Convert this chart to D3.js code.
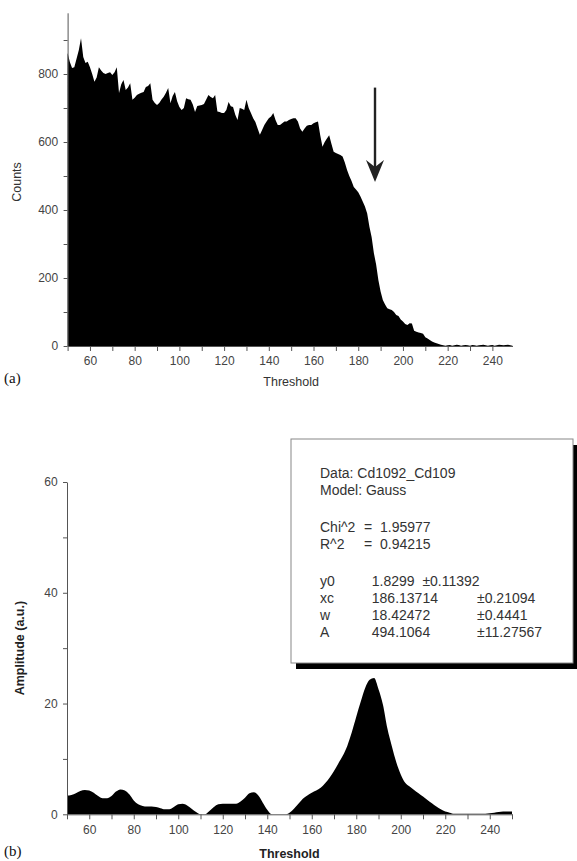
<!DOCTYPE html>
<html>
<head>
<meta charset="utf-8">
<script src="https://cdn.jsdelivr.net/npm/d3@7"></script>
<style>
  body { margin: 0; background: #fff; }
  svg text { font-family: "Liberation Sans", Arial, sans-serif; }
  .axis path, .axis line { stroke: #555; }
  .axis text { fill: #444; font-size: 12px; }
  .fit text { white-space: pre; }
</style>
</head>
<body>
<div id="chart"></div>
<script>
// (a) counts per threshold, 50..249
const thresholdsA = d3.range(50, 250);
const counts = [
  862, 835, 818, 820, 845, 870, 905, 850, 832, 836,
  820, 800, 777, 790, 820, 810, 803, 800, 803, 805,
  797, 805, 820, 744, 770, 782, 753, 760, 773, 724,
  730, 738, 742, 745, 747, 762, 765, 773, 724, 715,
  709, 715, 725, 733, 745, 759, 714, 735, 747, 720,
  703, 694, 700, 729, 726, 724, 710, 688, 706, 707,
  709, 712, 725, 738, 732, 729, 738, 690, 688, 685,
  685, 694, 718, 705, 703, 680, 665, 700, 698, 694,
  724, 700, 685, 670, 659, 640, 621, 635, 650, 660,
  670, 675, 685, 665, 650, 650, 655, 660, 660, 665,
  668, 670, 670, 660, 640, 630, 640, 648, 650, 650,
  655, 658, 660, 620, 586, 600, 610, 620, 595, 571,
  568, 565, 562, 557, 540, 518, 500, 485, 468, 460,
  452, 440, 425, 410, 390, 351, 320, 273, 240, 194,
  160, 135, 122, 111, 108, 106, 100, 91, 88, 78,
  72, 65, 62, 67, 66, 45, 42, 40, 38, 36,
  26, 22, 18, 13, 10, 8, 6, 4, 2, 1,
  2, 3, 1, 2, 4, 3, 1, 2, 3, 2,
  1, 3, 2, 1, 2, 3, 4, 2, 1, 2,
  3, 1, 2, 4, 3, 2, 3, 4, 2, 1
];

// (b) amplitude, every 2 thresholds, 50..250
const thresholdsB = d3.range(50, 251, 2);
const amplitude = [
  3.4, 3.5, 3.8, 4.2, 4.4, 4.3, 3.9, 3.3, 2.9, 2.9,
  3.3, 4.1, 4.5, 4.3, 3.6, 2.5, 1.8, 1.5, 1.4, 1.4,
  1.3, 1.1, 0.9, 0.9, 1.3, 1.8, 1.9, 1.6, 1.0, 0.4,
  0.0, 0.0, 0.6, 1.3, 1.8, 1.9, 1.9, 1.9, 1.9, 2.3,
  3.0, 3.8, 4.0, 3.4, 2.1, 0.8, 0.0, 0.0, 0.0, 0.0,
  0.3, 1.0, 1.9, 2.8, 3.4, 3.9, 4.3, 4.8, 5.6, 6.6,
  7.8, 9.2, 10.6, 12.4, 14.8, 17.6, 20.3, 22.8, 24.3, 24.6,
  22.6, 19.8, 15.5, 12.3, 9.4, 7.2, 5.7, 5.0, 4.4, 3.8,
  3.2, 2.6, 2.0, 1.4, 0.9, 0.5, 0.3, 0.1, 0.1, 0.1,
  0.1, 0.1, 0.1, 0.1, 0.1, 0.2, 0.3, 0.4, 0.5, 0.5,
  0.5
];

// arrow marker in (a): threshold, from count, to count
const arrowA = [187.5, 760, 482];

// fit results box
const fitLines = [
  ["Data: Cd1092_Cd109", "", ""],
  ["Model: Gauss", "", ""],
  ["", "", ""],
  ["Chi^2", "=  1.95977", ""],
  ["R^2", "=  0.94215", ""],
  ["", "", ""],
  ["y0", "  1.8299  \u00b10.11392", ""],
  ["xc", "  186.13714", "\u00b10.21094"],
  ["w", "  18.42472", "\u00b10.4441"],
  ["A", "  494.1064", "\u00b111.27567"]
];

const width = 577, height = 861;
const svg = d3.select("#chart").append("svg")
    .attr("width", width)
    .attr("height", height);

// ---------- panel (a)
const xA = d3.scaleLinear().domain([50, 249]).range([67.6, 512.5]);
const yA = d3.scaleLinear().domain([0, 980]).range([346, 12.8]);

svg.append("path")
    .datum(thresholdsA.map((t, i) => [t, counts[i]]))
    .attr("fill", "#000")
    .attr("d", d3.area()
        .x(d => xA(d[0]))
        .y0(yA(0))
        .y1(d => yA(d[1])));

svg.append("g").attr("class", "axis")
    .attr("transform", `translate(0,${yA(0)})`)
    .call(d3.axisBottom(xA).tickValues(d3.range(50, 250, 10))
        .tickSize(5).tickSizeOuter(0)
        .tickFormat(d => d % 20 === 0 && d >= 60 ? d : ""))
    .call(g => g.selectAll("text").attr("dy", "0.95em"));

svg.append("g").attr("class", "axis")
    .attr("transform", `translate(${xA(50)},0)`)
    .call(d3.axisLeft(yA).tickValues(d3.range(0, 901, 100))
        .tickSize(4).tickSizeOuter(0)
        .tickFormat(d => d % 200 === 0 ? d : ""))
    .call(g => g.selectAll("text").attr("dx", "-0.2em"));

svg.append("text")
    .attr("x", xA(150)).attr("y", 386)
    .attr("text-anchor", "middle")
    .style("font-size", "12.5px").style("fill", "#333")
    .text("Threshold");

svg.append("text")
    .attr("transform", `translate(21,${yA(400) - 28}) rotate(-90)`)
    .attr("text-anchor", "middle")
    .style("font-size", "12.5px").style("fill", "#333")
    .text("Counts");

svg.append("text")
    .attr("x", 4).attr("y", 383)
    .style("font-family", "'Liberation Serif', serif")
    .style("font-size", "15px").style("fill", "#111")
    .text("(a)");

// arrow
const ax = xA(arrowA[0]), ay0 = yA(arrowA[1]), ay1 = yA(arrowA[2]);
svg.append("line")
    .attr("x1", ax).attr("x2", ax)
    .attr("y1", ay0).attr("y2", ay1 - 10)
    .attr("stroke", "#222").attr("stroke-width", 2.4);
svg.append("path")
    .attr("d", `M${ax},${ay1} L${ax - 9},${ay1 - 22} L${ax},${ay1 - 15} L${ax + 9},${ay1 - 22} Z`)
    .attr("fill", "#222");

// ---------- panel (b)
const xB = d3.scaleLinear().domain([50, 250]).range([67, 512]);
const yB = d3.scaleLinear().domain([0, 60]).range([814.3, 482]);

svg.append("path")
    .datum(thresholdsB.map((t, i) => [t, amplitude[i]]))
    .attr("fill", "#000")
    .attr("d", d3.area()
        .curve(d3.curveMonotoneX)
        .x(d => xB(d[0]))
        .y0(yB(0))
        .y1(d => yB(d[1])));

svg.append("g").attr("class", "axis")
    .attr("transform", `translate(0,${yB(0)})`)
    .call(d3.axisBottom(xB).tickValues(d3.range(50, 251, 10))
        .tickSize(5).tickSizeOuter(0)
        .tickFormat(d => d % 20 === 0 && d >= 60 && d <= 240 ? d : ""))
    .call(g => g.selectAll("text").attr("dy", "0.95em"));

svg.append("g").attr("class", "axis")
    .attr("transform", `translate(${xB(50)},0)`)
    .call(d3.axisLeft(yB).tickValues(d3.range(0, 61, 10))
        .tickSize(4).tickSizeOuter(0)
        .tickFormat(d => d % 20 === 0 ? d : ""))
    .call(g => g.selectAll("text").attr("dx", "-0.2em"));

svg.append("text")
    .attr("x", xB(150)).attr("y", 858)
    .attr("text-anchor", "middle")
    .style("font-size", "12.5px").style("font-weight", "bold").style("fill", "#222")
    .text("Threshold");

svg.append("text")
    .attr("transform", `translate(24,${yB(30)}) rotate(-90)`)
    .attr("text-anchor", "middle")
    .style("font-size", "12.5px").style("font-weight", "bold").style("fill", "#222")
    .text("Amplitude (a.u.)");

svg.append("text")
    .attr("x", 4).attr("y", 856)
    .style("font-family", "'Liberation Serif', serif")
    .style("font-size", "15px").style("fill", "#111")
    .text("(b)");

// fit box with drop shadow
const box = svg.append("g").attr("class", "fit").attr("transform", "translate(291,439)");
box.append("rect")
    .attr("x", 5).attr("y", 6).attr("width", 282).attr("height", 224)
    .attr("fill", "#000");
box.append("rect")
    .attr("x", 0).attr("y", 0).attr("width", 282).attr("height", 224)
    .attr("fill", "#fff").attr("stroke", "#888").attr("stroke-width", 1);

// row baselines: text rows 16.8 apart, blank rows a bit taller
let yRow = 39;
const rowY = fitLines.map((d, i) => {
  const y = yRow;
  yRow += (d[0] === "" ? 20.5 : 16.8);
  return y;
});

const rows = box.selectAll("g.row")
  .data(fitLines)
  .join("g")
    .attr("class", "row")
    .attr("transform", (d, i) => `translate(0,${rowY[i]})`);

[29, 73, 186].forEach((x, k) => {
  rows.append("text")
      .attr("x", x)
      .style("font-size", "14px").style("fill", "#333")
      .text(d => d[k]);
});
</script>
</body>
</html>
